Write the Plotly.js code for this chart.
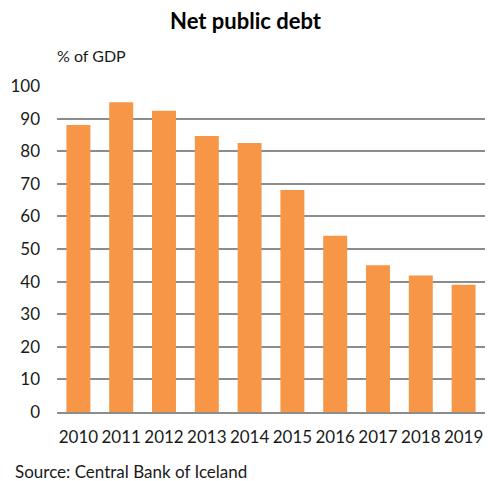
<!DOCTYPE html>
<html>
<head>
<meta charset="utf-8">
<script src="https://cdn.plot.ly/plotly-3.0.1.min.js"></script>
<style>html,body{margin:0;padding:0;background:#fff;}#chart{width:491px;height:481px;}</style>
</head>
<body>
<div id="chart"></div>
<script>
const years = ["2010","2011","2012","2013","2014","2015","2016","2017","2018","2019"];
const debtPctGDP = [88, 95, 92.4, 84.7, 82.5, 68.1, 54.1, 45, 41.9, 39];
const yTicks = [0,10,20,30,40,50,60,70,80,90,100];

const FONT = "Lato, 'Open Sans', sans-serif";
const data = [{
  type: 'bar',
  x: years,
  y: debtPctGDP,
  marker: {color: '#F79646', line: {width: 0}},
  hoverinfo: 'x+y'
}];

const layout = {
  width: 491, height: 481,
  margin: {l: 57, r: 6, t: 86, b: 69},
  paper_bgcolor: '#fff', plot_bgcolor: '#fff',
  showlegend: false,
  bargap: 0.44,
  font: {family: FONT, size: 17, color: '#1a1a1a'},
  title: {text: '<b>Net public debt</b>', x: 0.5, xanchor: 'center', y: 0.955, yanchor: 'middle', font: {family: FONT, size: 22, color: '#000'}},
  xaxis: {
    type: 'category',
    showgrid: false,
    showline: true, linecolor: '#8c8c8c', linewidth: 2,
    ticks: '', ticklabelstandoff: 9,
    tickfont: {family: FONT, size: 17, color: '#1a1a1a'}
  },
  yaxis: {
    range: [0, 100],
    tickvals: yTicks,
    showgrid: true, gridcolor: '#8c8c8c', gridwidth: 2,
    zeroline: false, showline: false,
    ticks: '', ticklabelstandoff: 16,
    tickfont: {family: FONT, size: 17, color: '#1a1a1a'}
  },
  annotations: [
    {text: '% of GDP', xref: 'paper', yref: 'paper', x: 0, y: 1.0, xanchor: 'left', yanchor: 'bottom', yshift: 19, xshift: -2, showarrow: false, font: {family: FONT, size: 16, color: '#1a1a1a'}},
    {text: 'Source: Central Bank of Iceland', xref: 'paper', yref: 'paper', x: 0, y: 0, xanchor: 'left', yanchor: 'top', xshift: -44, yshift: -47, showarrow: false, font: {family: FONT, size: 17, color: '#1a1a1a'}}
  ]
};

Plotly.newPlot('chart', data, layout, {displayModeBar: false, staticPlot: true});
</script>
</body>
</html>
